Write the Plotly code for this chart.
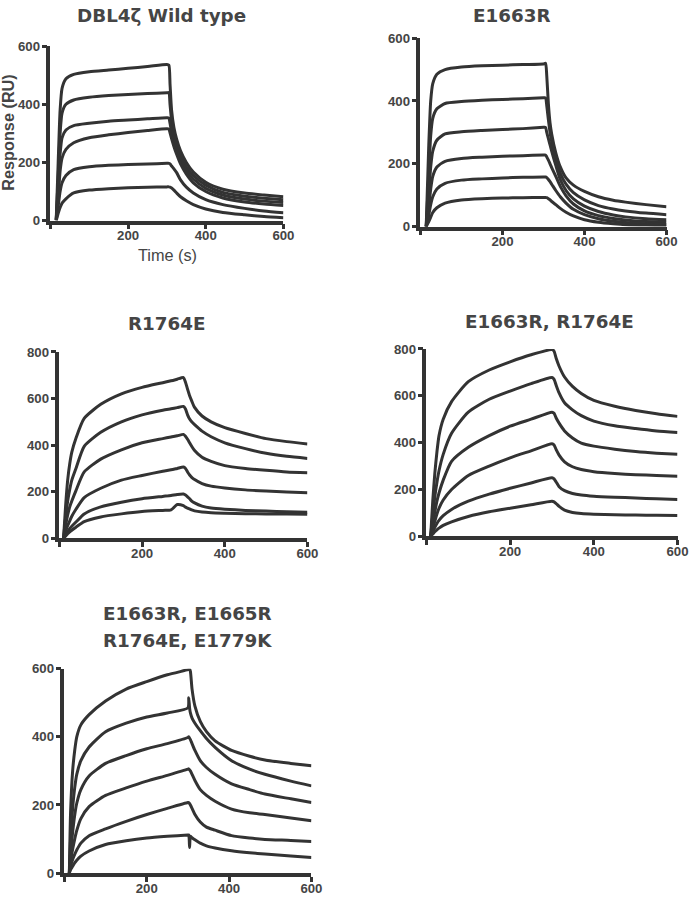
import plotly.graph_objects as go

# ---------------- data ----------------
# Panel 1: DBL4ζ Wild type
wt_time = [15, 20, 25, 30, 40, 60, 100, 150, 200, 250, 300,
           305, 308, 312, 318, 325, 335, 350, 368, 400, 444, 500, 550, 600]
wt_c1 = [5, 200, 380, 455, 488, 503, 512, 518, 524, 530, 537,
         535, 470, 380, 320, 280, 240, 200, 167, 132, 108, 95, 88, 82]
wt_c2 = [3, 150, 300, 370, 400, 415, 424, 430, 434, 437, 440,
         440, 400, 345, 300, 265, 225, 185, 155, 122, 97, 84, 77, 72]
wt_c3 = [2, 110, 230, 285, 312, 327, 335, 342, 346, 350, 354,
         353, 335, 305, 275, 245, 210, 172, 143, 111, 88, 74, 67, 62]
wt_c4 = [2, 80, 170, 215, 245, 268, 285, 295, 303, 310, 316,
         315, 302, 282, 255, 228, 195, 160, 130, 100, 78, 64, 57, 52]
wt_c5 = [1, 50, 100, 130, 155, 175, 185, 190, 193, 195, 197,
         197, 195, 188, 178, 165, 140, 115, 95, 72, 55, 42, 33, 27]
wt_c6 = [0, 25, 45, 60, 75, 95, 105, 110, 113, 115, 116,
         116, 115, 112, 105, 95, 82, 68, 55, 40, 28, 20, 14, 10]

# Panel 2: E1663R
e1_time = [14, 20, 25, 30, 40, 60, 100, 150, 200, 250, 300,
           305, 308, 312, 316, 320, 330, 341, 355, 373, 400, 434, 470, 500, 550, 600]
e1_c1 = [0, 250, 400, 455, 485, 500, 508, 512, 514, 516, 518,
         520, 480, 390, 330, 295, 235, 190, 155, 132, 112, 95, 84, 78, 70, 63]
e1_c2 = [0, 160, 290, 345, 375, 392, 398, 402, 405, 407, 410,
         410, 385, 340, 300, 270, 215, 170, 135, 108, 85, 67, 56, 50, 43, 38]
e1_c3 = [0, 100, 190, 240, 275, 295, 302, 306, 309, 312, 316,
         316, 300, 280, 260, 240, 195, 150, 115, 88, 65, 48, 37, 31, 25, 22]
e1_c4 = [0, 60, 120, 160, 190, 208, 217, 221, 224, 226, 228,
         228, 222, 212, 200, 188, 160, 128, 98, 72, 50, 35, 26, 21, 16, 14]
e1_c5 = [0, 35, 70, 95, 120, 138, 148, 152, 155, 157, 158,
         158, 156, 150, 143, 135, 115, 95, 75, 55, 38, 25, 17, 13, 9, 7]
e1_c6 = [0, 15, 30, 45, 60, 75, 85, 89, 91, 92, 93,
         93, 92, 89, 85, 80, 70, 58, 46, 34, 22, 14, 9, 6, 4, 3]

# Panel 3: R1764E
r1_time = [10, 15, 20, 25, 30, 40, 60, 100, 150, 200, 250, 270, 285, 300,
           305, 310, 315, 320, 327, 345, 367, 400, 450, 500, 550, 600]
r1_c1 = [0, 140, 250, 320, 370, 430, 515, 575, 620, 648, 668, 676, 683, 690,
         670, 640, 612, 590, 562, 525, 500, 475, 450, 428, 415, 405]
r1_c2 = [0, 90, 160, 210, 250, 300, 395, 455, 500, 530, 550, 556, 561, 566,
         555, 530, 512, 500, 488, 460, 436, 410, 385, 365, 352, 343]
r1_c3 = [0, 55, 100, 135, 160, 205, 285, 340, 380, 410, 428, 435, 440, 446,
         438, 425, 410, 395, 377, 348, 330, 312, 300, 292, 285, 281]
r1_c4 = [0, 30, 55, 75, 95, 125, 175, 215, 250, 270, 288, 294, 300, 306,
         300, 285, 272, 262, 252, 235, 224, 216, 208, 203, 199, 196]
r1_c5 = [0, 15, 30, 42, 52, 70, 105, 135, 155, 170, 180, 184, 188, 190,
         186, 178, 170, 160, 152, 138, 130, 125, 120, 117, 114, 112]
r1_c6 = [0, 10, 20, 28, 35, 48, 72, 92, 105, 115, 120, 122, 145, 140,
         134, 130, 126, 122, 118, 113, 110, 108, 106, 105, 104, 103]

# Panel 4: E1663R, R1764E
er_time = [10, 15, 20, 25, 30, 40, 60, 100, 150, 200, 250, 300,
           305, 310, 317, 330, 349, 370, 400, 450, 500, 550, 600]
er_c1 = [0, 150, 270, 360, 430, 500, 575, 660, 710, 745, 775, 797,
         790, 760, 726, 680, 640, 610, 580, 555, 537, 523, 512]
er_c2 = [0, 90, 170, 230, 280, 350, 440, 530, 585, 620, 652, 678,
         670, 645, 612, 570, 540, 515, 492, 472, 460, 450, 443]
er_c3 = [0, 55, 105, 150, 185, 240, 320, 380, 430, 470, 500, 530,
         525, 505, 483, 450, 420, 398, 385, 372, 362, 355, 350]
er_c4 = [0, 35, 65, 95, 120, 155, 200, 260, 300, 335, 365, 395,
         390, 370, 347, 318, 297, 285, 276, 268, 263, 260, 257]
er_c5 = [0, 20, 38, 55, 68, 88, 115, 150, 180, 205, 228, 250,
         245, 232, 212, 195, 183, 176, 171, 167, 164, 160, 157]
er_c6 = [0, 10, 20, 28, 35, 47, 62, 85, 105, 120, 135, 150,
         147, 140, 128, 112, 102, 97, 94, 92, 91, 90, 89]

# Panel 5: E1663R, E1665R, R1764E, E1779K
q_time = [12, 15, 20, 25, 30, 40, 60, 100, 150, 200, 250, 300,
          302, 304, 306, 310, 317, 330, 345, 366, 406, 450, 487, 550, 600]
q_c1 = [0, 180, 300, 360, 400, 435, 465, 505, 540, 562, 582, 597,
        598, 598, 592, 540, 490, 445, 415, 388, 360, 343, 332, 322, 315]
q_c2 = [0, 100, 190, 250, 290, 330, 370, 415, 440, 458, 470, 485,
        515, 485, 470, 455, 440, 418, 395, 369, 330, 305, 290, 270, 256]
q_c3 = [0, 60, 120, 170, 205, 245, 285, 322, 345, 365, 380, 398,
        400, 396, 392, 380, 360, 330, 310, 290, 262, 245, 232, 218, 207]
q_c4 = [0, 35, 70, 100, 125, 160, 195, 228, 250, 270, 287, 305,
        306, 303, 300, 290, 272, 245, 228, 211, 188, 177, 172, 162, 154]
q_c5 = [0, 20, 40, 55, 68, 88, 110, 130, 152, 172, 190, 207,
        207, 204, 200, 190, 172, 150, 135, 126, 110, 103, 99, 96, 93]
q_c6 = [0, 10, 20, 30, 38, 50, 65, 84, 95, 103, 108, 112,
        112, 75, 108, 104, 98, 88, 80, 74, 66, 60, 56, 50, 46]

titles = ["DBL4ζ Wild type", "E1663R", "R1764E", "E1663R, R1764E",
          "E1663R, E1665R", "R1764E, E1779K"]
x_ticks = [0, 200, 400, 600]
x_ticktext = ["", "200", "400", "600"]
y_ticks_600 = [0, 200, 400, 600]
y_ticks_800 = [0, 200, 400, 600, 800]
x_title = "Time (s)"
y_title = "Response (RU)"

# ---------------- figure ----------------
W, H = 694, 899
LINE = "#333333"
TXT = "#454545"
# the page is photographed with a small scale/offset; place items so they land
# on the intended screen pixels
SX, OX, SY, OY = 0.984, 1.6, 0.981, 7.9
FS = 1 / 0.983


def fx(px):
    return ((px - OX) / SX) / W


def fy(py):
    return 1 - ((py - OY) / SY) / H


panels = [
    (wt_time, [wt_c1, wt_c2, wt_c3, wt_c4, wt_c5, wt_c6], (52, 285, 47, 221), 600, y_ticks_600),
    (e1_time, [e1_c1, e1_c2, e1_c3, e1_c4, e1_c5, e1_c6], (422, 668, 39, 227), 600, y_ticks_600),
    (r1_time, [r1_c1, r1_c2, r1_c3, r1_c4, r1_c5, r1_c6], (61, 309, 352, 538), 800, y_ticks_800),
    (er_time, [er_c1, er_c2, er_c3, er_c4, er_c5, er_c6], (428, 679, 349, 536), 800, y_ticks_800),
    (q_time, [q_c1, q_c2, q_c3, q_c4, q_c5, q_c6], (66, 313, 668, 872), 600, y_ticks_600),
]

fig = go.Figure()
layout = dict(width=W, height=H, margin=dict(l=0, r=0, t=0, b=0),
              paper_bgcolor="white", plot_bgcolor="white", showlegend=False)

tickfont = dict(family="Liberation Sans, Arial", size=13 * FS, color=TXT, weight="bold")

for i, (t, curves, (x0, x1, y0, y1), ymax, yt) in enumerate(panels, start=1):
    xa = "x" if i == 1 else f"x{i}"
    ya = "y" if i == 1 else f"y{i}"
    for c in curves:
        fig.add_trace(go.Scatter(x=t, y=c, mode="lines", xaxis=xa, yaxis=ya,
                                 line=dict(color=LINE, width=3, shape="spline", smoothing=0.6),
                                 hoverinfo="skip", cliponaxis=False))
    common = dict(showline=True, linewidth=3.5, linecolor=LINE, ticks="outside",
                  ticklen=5, tickwidth=3, tickcolor=LINE, showgrid=False,
                  zeroline=False, tickfont=tickfont, fixedrange=True)
    layout["xaxis" if i == 1 else f"xaxis{i}"] = dict(
        domain=[fx(x0), fx(x1)], range=[0, 600], anchor=ya,
        tickvals=x_ticks, ticktext=x_ticktext, ticklabelstandoff=-5, **common)
    layout["yaxis" if i == 1 else f"yaxis{i}"] = dict(
        domain=[fy(y1), fy(y0)], range=[0, ymax], anchor=xa,
        tickvals=yt, ticklabelstandoff=-1, **common)

fig.update_layout(**layout)

title_font = dict(family="DejaVu Sans", size=18 * FS, color=TXT, weight="bold")
title_pos = [(163, 16.5), (514, 16), (169, 324), (551, 321.5), (189, 612.5), (189, 640)]
for txt, (px, py) in zip(titles, title_pos):
    fig.add_annotation(x=fx(px), y=fy(py), xref="paper", yref="paper",
                       text=txt, showarrow=False, xanchor="center", yanchor="middle",
                       font=title_font)

fig.add_annotation(x=fx(169), y=fy(255), xref="paper", yref="paper",
                   text=x_title, showarrow=False, xanchor="center", yanchor="middle",
                   font=dict(family="Liberation Sans, Arial", size=16 * FS, color=TXT))
fig.add_annotation(x=fx(10), y=fy(133), xref="paper", yref="paper",
                   text=y_title, showarrow=False, xanchor="center", yanchor="middle",
                   textangle=-90,
                   font=dict(family="Liberation Sans, Arial", size=16 * FS, color=TXT, weight="bold"))

fig.write_html("out.html", config={"displayModeBar": False},
               post_script="document.body.style.margin='0';")
